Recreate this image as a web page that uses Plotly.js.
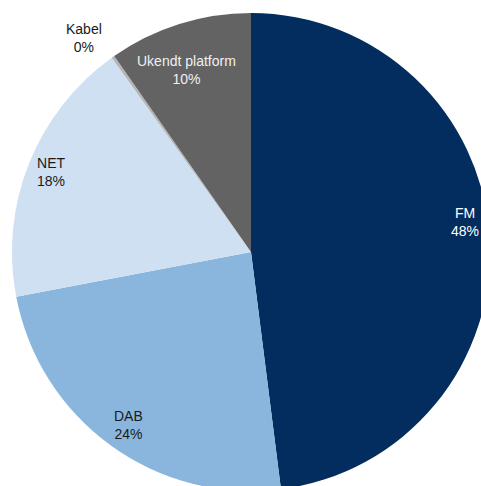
<!DOCTYPE html>
<html>
<head>
<meta charset="utf-8">
<script src="https://cdn.plot.ly/plotly-3.0.1.min.js"></script>
<style>
  html, body { margin: 0; padding: 0; overflow: hidden; background: #fff; }
  #wrap { width: 481px; height: 486px; overflow: hidden; position: relative; }
  #chart { position: absolute; left: 0; top: 0; }
</style>
</head>
<body>
<div id="wrap"><div id="chart"></div></div>
<script>
const labels = ["FM", "DAB", "NET", "Kabel", "Ukendt platform"];
const values = [48.0, 24.0, 18.1, 0.2, 9.7];
const colors = ["#022d5e", "#8ab6de", "#cfe0f2", "#b5b5b5", "#636363"];
const textColors = ["#ffffff", "#1a1a1a", "#1a1a1a", "#1a1a1a", "#f0f0f0"];
// label anchor points (pixels in the figure)
const labelPos = [[465, 222], [128, 425], [51, 172], [84, 38], [186, 70]];

const W = 502, H = 504, ML = 12, MR = 12, MT = 13, MB = 13;
const pw = W - ML - MR, ph = H - MT - MB;
const total = values.reduce((a, b) => a + b, 0);

const annotations = labels.map((lab, i) => ({
  xref: "paper", yref: "paper",
  x: (labelPos[i][0] - ML) / pw,
  y: 1 - (labelPos[i][1] - MT) / ph,
  xanchor: "center", yanchor: "middle",
  text: lab + "<br>" + Math.round(values[i] / total * 100) + "%",
  showarrow: false,
  align: "center",
  font: { family: "Liberation Sans, Arial, sans-serif", size: 14, color: textColors[i] }
}));

const trace = {
  type: "pie",
  labels: labels,
  values: values,
  sort: false,
  direction: "clockwise",
  rotation: 0,
  marker: { colors: colors, line: { width: 0 } },
  textinfo: "none",
  hoverinfo: "none",
  domain: { x: [0, 1], y: [0, 1] }
};

Plotly.newPlot("chart", [trace], {
  width: W, height: H,
  margin: { l: ML, r: MR, t: MT, b: MB, pad: 0 },
  showlegend: false,
  paper_bgcolor: "#ffffff",
  annotations: annotations
}, { staticPlot: true, displayModeBar: false });
</script>
</body>
</html>
